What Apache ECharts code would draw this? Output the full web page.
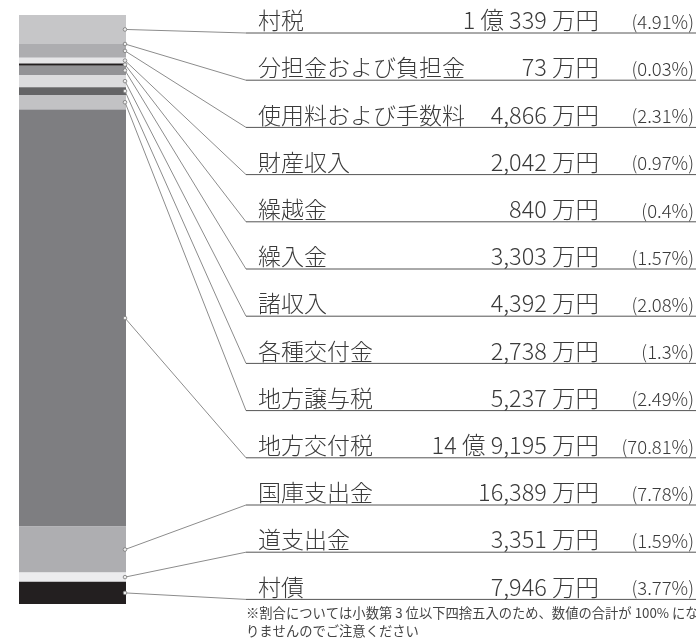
<!DOCTYPE html>
<html>
<head>
<meta charset="utf-8">
<script src="https://cdn.jsdelivr.net/npm/echarts@6/dist/echarts.min.js"></script>
<style>
  html, body { margin: 0; padding: 0; background: #fff; }
  #main { width: 696px; height: 641px; }
</style>
</head>
<body>
<div id="main"></div>
<script>
// 歳入の内訳 (単位: 万円)
const names = ['村税', '分担金および負担金', '使用料および手数料', '財産収入', '繰越金', '繰入金',
  '諸収入', '各種交付金', '地方譲与税', '地方交付税', '国庫支出金', '道支出金', '村債']
const values = [10339, 73, 4866, 2042, 840, 3303, 4392, 2738, 5237, 149195, 16389, 3351, 7946]
const amountLabels = ['1 億 339 万円', '73 万円', '4,866 万円', '2,042 万円', '840 万円', '3,303 万円',
  '4,392 万円', '2,738 万円', '5,237 万円', '14 億 9,195 万円', '16,389 万円', '3,351 万円', '7,946 万円']
const percentLabels = ['(4.91%)', '(0.03%)', '(2.31%)', '(0.97%)', '(0.4%)', '(1.57%)',
  '(2.08%)', '(1.3%)', '(2.49%)', '(70.81%)', '(7.78%)', '(1.59%)', '(3.77%)']
const colors = ['#c6c6c8', '#8a8a8d', '#adadb0', '#e6e6e8', '#231f20', '#939396',
  '#dcdcde', '#646466', '#c2c2c4', '#7e7e81', '#aeaeb1', '#ececee', '#231f20']
const note = '※割合については小数第 3 位以下四捨五入のため、数値の合計が 100% になりませんのでご注意ください'

const total = values.reduce((a, b) => a + b, 0)
const FONT = '"Noto Sans CJK JP", "Noto Sans", sans-serif'

// 積み上げの範囲
let acc = 0
const ranges = values.map((v, i) => {
  const s = acc
  acc += v
  return [0, s, acc, i]
})

const ROW_TOP = 33
const ROW_GAP = 47.2

const chart = echarts.init(document.getElementById('main'))

const barSeries = names.map((n, i) => ({
  name: n,
  type: 'bar',
  stack: 'total',
  barWidth: '100%',
  itemStyle: { color: colors[i] },
  data: [values[i]]
}))

const labelSeries = {
  type: 'custom',
  clip: false,
  silent: true,
  z: 10,
  encode: { x: 0, y: [1, 2] },
  data: ranges,
  renderItem: function (params, api) {
    const i = api.value(3)
    const p0 = api.coord([0, api.value(1)])
    const p1 = api.coord([0, api.value(2)])
    const band = api.size([1, 0])[0]
    const right = p0[0] + band / 2 - 1
    const mid = (p0[1] + p1[1]) / 2
    const rowY = ROW_TOP + i * ROW_GAP
    const lineX = 246
    return {
      type: 'group',
      children: [
        {
          type: 'line',
          shape: { x1: right, y1: mid, x2: lineX, y2: rowY },
          style: { stroke: '#8c8c8c', lineWidth: 1 }
        },
        {
          type: 'line',
          shape: { x1: lineX, y1: rowY, x2: 696, y2: rowY },
          style: { stroke: '#555', lineWidth: 1 }
        },
        {
          type: 'circle',
          shape: { cx: right, cy: mid, r: 1.8 },
          style: { fill: '#eee', stroke: '#777', lineWidth: 0.8 }
        },
        {
          type: 'text',
          x: 258, y: rowY - 1,
          style: {
            text: names[i], fill: '#3a3a3a', font: '300 23px ' + FONT,
            align: 'left', verticalAlign: 'bottom'
          }
        },
        {
          type: 'text',
          x: 599, y: rowY - 1,
          style: {
            text: amountLabels[i], fill: '#3a3a3a', font: '300 23.5px ' + FONT,
            align: 'right', verticalAlign: 'bottom'
          }
        },
        {
          type: 'text',
          x: 694, y: rowY - 2,
          style: {
            text: percentLabels[i], fill: '#3a3a3a', font: '300 18.5px ' + FONT,
            align: 'right', verticalAlign: 'bottom'
          }
        }
      ]
    }
  }
}

const cut = note.indexOf('りません')

chart.setOption({
  animation: false,
  grid: { left: 19, top: 15, width: 107, height: 589 },
  xAxis: { type: 'category', data: ['歳入'], show: false },
  yAxis: { type: 'value', min: 0, max: total, inverse: true, show: false },
  graphic: [{
    type: 'text',
    left: 246, top: 604,
    style: {
      text: note.slice(0, cut) + '\n' + note.slice(cut),
      fill: '#444', font: '13.3px ' + FONT, lineHeight: 18
    }
  }],
  series: barSeries.concat([labelSeries])
})
</script>
</body>
</html>
